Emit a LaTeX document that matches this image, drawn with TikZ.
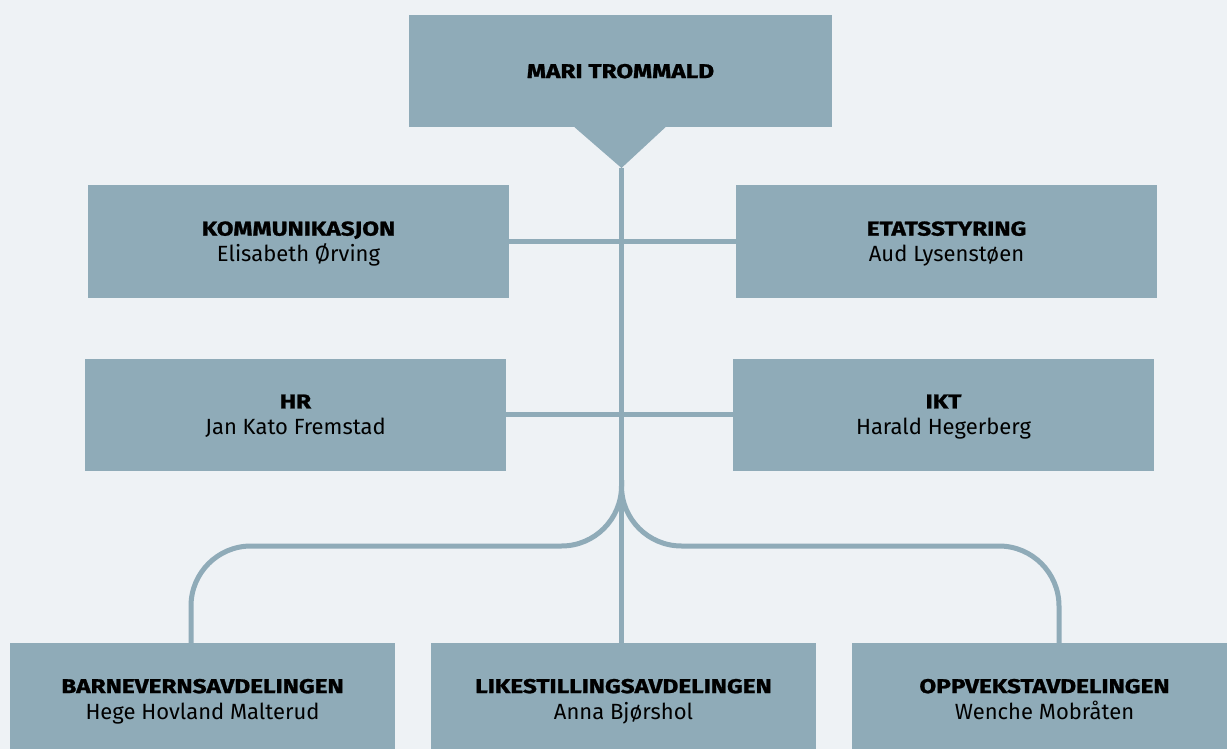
\documentclass[tikz,border=0pt]{standalone}
\usepackage{fontspec}
\setmainfont{Fira Sans}
\newfontfamily\headfont{Fira Sans}[FakeStretch=1.22, BoldFeatures={FakeBold=1.2}]
\usetikzlibrary{positioning}
\definecolor{boxblue}{RGB}{143,171,184}
\definecolor{paleback}{RGB}{238,242,245}
\newcommand{\headline}[1]{{\headfont\bfseries\fontsize{20}{26}\selectfont #1}}

\begin{document}
\begin{tikzpicture}
  [x=1pt, y=-1pt,
  orgbox/.style={rectangle, minimum width=421pt, minimum height=112pt, inner sep=0pt, text depth=0pt, text centered, align=center, fill=boxblue, font=\fontsize{22}{26}\selectfont},
  deptbox/.style={orgbox, minimum width=385pt},
  conn/.style={draw=boxblue, line width=5pt}]
  \fill[paleback] (0,0) rectangle (1227,749);
  \clip (0,0) rectangle (1227,749);

  % Director
  \node (director) [orgbox, minimum width=423pt] at (620.5,71) {\headline{MARI TROMMALD}};
  \coordinate (apex) at (621.5,168);
  \fill[boxblue] ([xshift=-46pt]director.south) -- ([xshift=45pt]director.south) -- (apex) -- cycle;

  % Staff
  \node (komm) [orgbox] at (298.5,241.5) {\headline{KOMMUNIKASJON}\\Elisabeth Ørving};
  \node (etat) [orgbox] at (946.5,241.5) {\headline{ETATSSTYRING}\\Aud Lysenstøen};
  \draw[conn] (komm.east) -- (etat.west);
  \node (hr) [orgbox] at (295.5,414.5) {\headline{HR}\\Jan Kato Fremstad};
  \node (ikt) [orgbox] at (943.5,414.5) {\headline{IKT}\\Harald Hegerberg};
  \draw[conn] (hr.east) -- (ikt.west);

  % Departments
  \node (barnevern) [deptbox] at (202.5,699) {\headline{BARNEVERNSAVDELINGEN}\\Hege Hovland Malterud};
  \node (likestilling) [deptbox] at (623.5,699) {\headline{LIKESTILLINGSAVDELINGEN}\\Anna Bjørshol};
  \node (oppvekst) [deptbox] at (1044.5,699) {\headline{OPPVEKSTAVDELINGEN}\\Wenche Mobråten};

  \draw[conn] (apex) -- (apex |- likestilling.north);
  \coordinate (fork) at (621.5,480);
  \coordinate (left-knee) at (191,546);
  \coordinate (right-knee) at (1059,546);
  \draw[conn, rounded corners=60pt] (fork) |- (left-knee) -- (left-knee |- barnevern.north);
  \draw[conn, rounded corners=60pt] (fork) |- (right-knee) -- (right-knee |- oppvekst.north);
\end{tikzpicture}
\end{document}
